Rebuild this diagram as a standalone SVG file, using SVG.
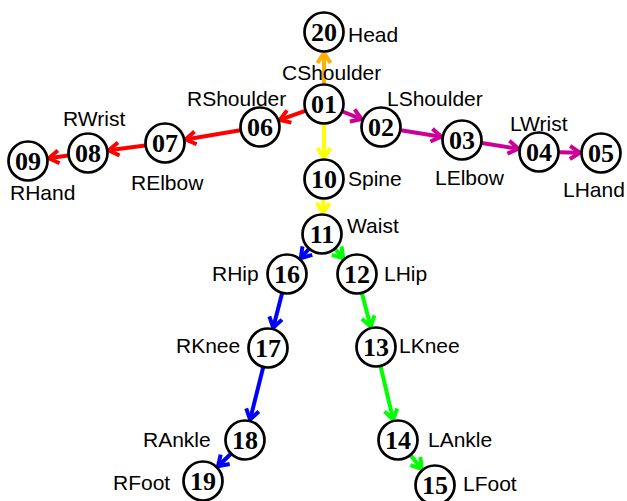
<svg xmlns="http://www.w3.org/2000/svg" width="627" height="501" viewBox="0 0 627 501">
<style>
.n circle{fill:#fff;stroke:#000;stroke-width:2.7}
.n text.id{font-family:"Liberation Serif","Times New Roman",serif;font-weight:bold;font-size:26px;text-anchor:middle;fill:#000}
.n text.lab{font-family:"Liberation Sans",Arial,sans-serif;font-size:21px;fill:#000}
.e line{stroke-width:4;fill:none}
.or{stroke:#FFB000}.rd{stroke:#FF0000}.mg{stroke:#CC0099}.yl{stroke:#FFFF00}.bl{stroke:#0000FF}.gr{stroke:#00FF00}
.m path{fill:none;stroke-width:4}
</style>
<defs>
<marker id="aor" class="m" markerUnits="userSpaceOnUse" viewBox="-13 -9 15 18" markerWidth="15" markerHeight="18" refX="0" refY="0" orient="auto"><path d="M-10,-6.5 L0,0 L-10,6.5" stroke="#FFB000"/></marker>
<marker id="ard" class="m" markerUnits="userSpaceOnUse" viewBox="-13 -9 15 18" markerWidth="15" markerHeight="18" refX="0" refY="0" orient="auto"><path d="M-10,-6.5 L0,0 L-10,6.5" stroke="#FF0000"/></marker>
<marker id="amg" class="m" markerUnits="userSpaceOnUse" viewBox="-13 -9 15 18" markerWidth="15" markerHeight="18" refX="0" refY="0" orient="auto"><path d="M-10,-6.5 L0,0 L-10,6.5" stroke="#CC0099"/></marker>
<marker id="ayl" class="m" markerUnits="userSpaceOnUse" viewBox="-13 -9 15 18" markerWidth="15" markerHeight="18" refX="0" refY="0" orient="auto"><path d="M-10,-6.5 L0,0 L-10,6.5" stroke="#FFFF00"/></marker>
<marker id="abl" class="m" markerUnits="userSpaceOnUse" viewBox="-13 -9 15 18" markerWidth="15" markerHeight="18" refX="0" refY="0" orient="auto"><path d="M-10,-6.5 L0,0 L-10,6.5" stroke="#0000FF"/></marker>
<marker id="agr" class="m" markerUnits="userSpaceOnUse" viewBox="-13 -9 15 18" markerWidth="15" markerHeight="18" refX="0" refY="0" orient="auto"><path d="M-10,-6.5 L0,0 L-10,6.5" stroke="#00FF00"/></marker>
</defs>
<g id="connectors" class="e">
<line class="or" x1="324" y1="84" x2="324" y2="53" marker-end="url(#aor)"/>
<line class="rd" x1="305.2" y1="110.8" x2="279.8" y2="119.9" marker-end="url(#ard)"/>
<line class="rd" x1="240.3" y1="130.3" x2="185.7" y2="139.5" marker-end="url(#ard)"/>
<line class="rd" x1="145.2" y1="145.6" x2="108.8" y2="150.3" marker-end="url(#ard)"/>
<line class="rd" x1="68.2" y1="155.6" x2="48.8" y2="158.2" marker-end="url(#ard)"/>
<line class="mg" x1="342.5" y1="111.5" x2="361.5" y2="119.1" marker-end="url(#amg)"/>
<line class="mg" x1="400.8" y1="130.2" x2="441.3" y2="136.7" marker-end="url(#amg)"/>
<line class="mg" x1="481.8" y1="143.1" x2="518.3" y2="148.8" marker-end="url(#amg)"/>
<line class="mg" x1="559" y1="152.3" x2="580" y2="152.7" marker-end="url(#amg)"/>
<line class="yl" x1="324" y1="124" x2="324" y2="158" marker-end="url(#ayl)"/>
<line class="yl" x1="323.3" y1="199" x2="322.8" y2="213" marker-end="url(#ayl)"/>
<line class="bl" x1="308.8" y1="249" x2="300.8" y2="258.2" marker-end="url(#abl)"/>
<line class="gr" x1="335.2" y1="249" x2="343.2" y2="258.2" marker-end="url(#agr)"/>
<line class="bl" x1="282" y1="293.4" x2="273.2" y2="327.7" marker-end="url(#abl)"/>
<line class="gr" x1="362" y1="293.4" x2="370.7" y2="326.7" marker-end="url(#agr)"/>
<line class="bl" x1="263.1" y1="367.4" x2="250.1" y2="419.6" marker-end="url(#abl)"/>
<line class="gr" x1="380.6" y1="366.5" x2="393.2" y2="419.6" marker-end="url(#agr)"/>
<line class="bl" x1="230.7" y1="454" x2="218" y2="466.3" marker-end="url(#abl)"/>
<line class="gr" x1="410.7" y1="455.4" x2="421.7" y2="468.8" marker-end="url(#agr)"/>
</g>
<g id="n01" class="n"><circle cx="324" cy="104" r="19.5"/><text class="id" x="324" y="113">01</text><text class="lab" x="282" y="80">CShoulder</text></g>
<g id="n20" class="n"><circle cx="324" cy="32" r="19.5"/><text class="id" x="324" y="41">20</text><text class="lab" x="348" y="42">Head</text></g>
<g id="n06" class="n"><circle cx="260" cy="127" r="19.5"/><text class="id" x="260" y="136">06</text><text class="lab" x="187" y="106">RShoulder</text></g>
<g id="n07" class="n"><circle cx="165" cy="143" r="19.5"/><text class="id" x="165" y="152">07</text><text class="lab" x="131" y="190">RElbow</text></g>
<g id="n08" class="n"><circle cx="88" cy="153" r="19.5"/><text class="id" x="88" y="162">08</text><text class="lab" x="63" y="126">RWrist</text></g>
<g id="n09" class="n"><circle cx="28" cy="161" r="19.5"/><text class="id" x="28" y="170">09</text><text class="lab" x="10" y="200">RHand</text></g>
<g id="n02" class="n"><circle cx="381" cy="127" r="19.5"/><text class="id" x="381" y="136">02</text><text class="lab" x="387" y="106">LShoulder</text></g>
<g id="n03" class="n"><circle cx="462" cy="140" r="19.5"/><text class="id" x="462" y="149">03</text><text class="lab" x="435" y="185">LElbow</text></g>
<g id="n04" class="n"><circle cx="539" cy="152" r="19.5"/><text class="id" x="539" y="161">04</text><text class="lab" x="510" y="131">LWrist</text></g>
<g id="n05" class="n"><circle cx="601" cy="153" r="19.5"/><text class="id" x="601" y="162">05</text><text class="lab" x="563" y="197">LHand</text></g>
<g id="n10" class="n"><circle cx="324" cy="179" r="19.5"/><text class="id" x="324" y="188">10</text><text class="lab" x="348" y="186">Spine</text></g>
<g id="n11" class="n"><circle cx="322" cy="234" r="19.5"/><text class="id" x="322" y="243">11</text><text class="lab" x="347" y="233">Waist</text></g>
<g id="n16" class="n"><circle cx="287" cy="274" r="19.5"/><text class="id" x="287" y="283">16</text><text class="lab" x="212" y="281">RHip</text></g>
<g id="n12" class="n"><circle cx="357" cy="274" r="19.5"/><text class="id" x="357" y="283">12</text><text class="lab" x="384" y="281">LHip</text></g>
<g id="n17" class="n"><circle cx="268" cy="348" r="19.5"/><text class="id" x="268" y="357">17</text><text class="lab" x="176" y="353">RKnee</text></g>
<g id="n13" class="n"><circle cx="376" cy="347" r="19.5"/><text class="id" x="376" y="356">13</text><text class="lab" x="399" y="353">LKnee</text></g>
<g id="n18" class="n"><circle cx="245" cy="440" r="19.5"/><text class="id" x="245" y="449">18</text><text class="lab" x="143" y="447">RAnkle</text></g>
<g id="n14" class="n"><circle cx="398" cy="440" r="19.5"/><text class="id" x="398" y="449">14</text><text class="lab" x="428" y="447">LAnkle</text></g>
<g id="n19" class="n"><circle cx="203" cy="481" r="19.5"/><text class="id" x="203" y="490">19</text><text class="lab" x="113" y="490">RFoot</text></g>
<g id="n15" class="n"><circle cx="435" cy="485" r="19.5"/><text class="id" x="435" y="494">15</text><text class="lab" x="463" y="491">LFoot</text></g>
</svg>
